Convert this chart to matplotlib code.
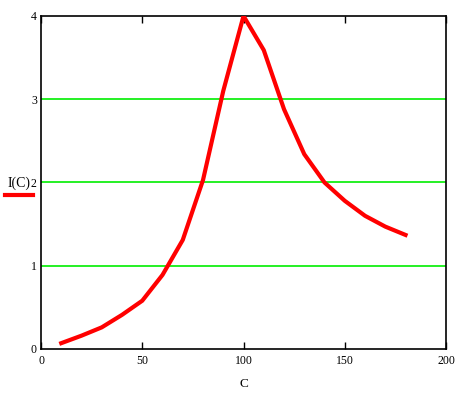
import matplotlib
matplotlib.use("Agg")
import matplotlib.pyplot as plt
from matplotlib.lines import Line2D

# data
C = [10, 20, 30, 40, 50, 60, 70, 80, 90, 100, 110, 120, 130, 140, 150, 160, 170, 180]
I = [0.07, 0.16, 0.26, 0.41, 0.58, 0.89, 1.31, 2.03, 3.1, 4.0,
     3.59, 2.88, 2.34, 2.0, 1.78, 1.6, 1.47, 1.37]
xticks = [0, 50, 100, 150, 200]
yticks = [0, 1, 2, 3, 4]

plt.rcParams['font.family'] = ['Liberation Serif', 'DejaVu Serif']

fig = plt.figure(figsize=(4.74, 3.96), dpi=100)
ax = fig.add_axes([0.0865, 0.1187, 0.941 - 0.0865, 0.9596 - 0.1187])

for y in yticks[1:4]:
    ax.axhline(y, color='#00ee00', lw=1.2, zorder=1)

ax.plot(C, I, color='#ff0000', lw=3.0, solid_joinstyle='miter', zorder=3)

ax.set_xlim(0, 200)
ax.set_ylim(0, 4)
ax.set_xticks(xticks)
ax.set_yticks(yticks)
ax.tick_params(axis='x', direction='in', length=5, width=1, top=True,
               labelsize=8.5, pad=4, color='black')
ax.tick_params(axis='y', length=0, labelsize=8.5, pad=3)
for s in ax.spines.values():
    s.set_linewidth(1.2)
    s.set_color('black')

ax.set_xlabel('C', fontsize=9.5, labelpad=8)

# y label with legend-style line underneath
fig.text(19 / 474, 1 - 183 / 396, 'I(C)', fontsize=10, ha='center', va='center')
fig.add_artist(Line2D([5 / 474, 33 / 474], [1 - 195 / 396, 1 - 195 / 396],
                      color='#ff0000', lw=3.0, transform=fig.transFigure))

fig.savefig('out.png', dpi=100)
